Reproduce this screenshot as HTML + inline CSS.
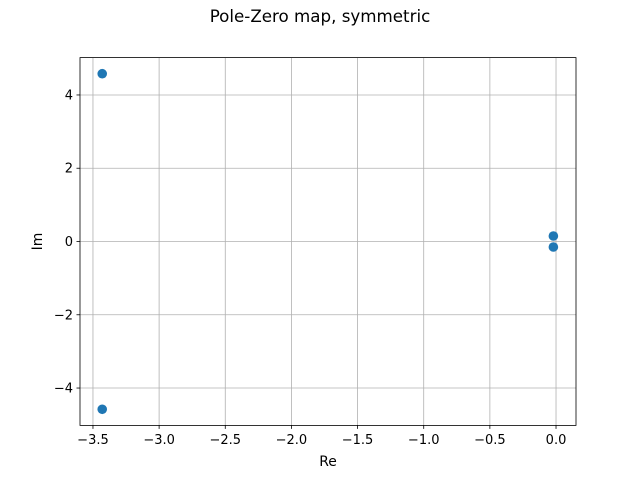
<!DOCTYPE html>
<html><head><meta charset="utf-8"><style>
body{margin:0;background:#fff;}
svg{display:block;font-family:"DejaVu Sans","Liberation Sans",sans-serif;}
</style></head><body>
<svg id="chart" width="640" height="478">
<text x="320" y="22" text-anchor="middle" font-size="16.7">Pole-Zero map, symmetric</text>
<g id="grid"></g>
<g id="ticks"></g>
<g id="points"></g>
<rect x="80" y="57.6" width="496" height="367.8" fill="none" stroke="#000" stroke-width="0.8"/>
<text x="328" y="466" text-anchor="middle" font-size="13.9">Re</text>
<text x="0" y="0" transform="translate(42,241.5) rotate(-90)" text-anchor="middle" font-size="13.9">Im</text>
</svg>
<script>
const xTicks=[-3.5,-3.0,-2.5,-2.0,-1.5,-1.0,-0.5,0.0];
const xTickLabels=["−3.5","−3.0","−2.5","−2.0","−1.5","−1.0","−0.5","0.0"];
const yTicks=[-4,-2,0,2,4];
const yTickLabels=["−4","−2","0","2","4"];
const reVals=[-3.43,-3.43,-0.02,-0.02];
const imVals=[4.58,-4.58,0.15,-0.15];
const L=80,R=576,T=57.6,B=425.4;
const xMin=-3.598,xMax=0.151,yMin=-5.02,yMax=5.02;
const sx=v=>L+(v-xMin)/(xMax-xMin)*(R-L);
const sy=v=>B-(v-yMin)/(yMax-yMin)*(B-T);
const NS="http://www.w3.org/2000/svg";
const grid=document.getElementById('grid'),ticks=document.getElementById('ticks'),pts=document.getElementById('points');
function mk(tag,attrs,parent){const e=document.createElementNS(NS,tag);for(const k in attrs)e.setAttribute(k,attrs[k]);parent.appendChild(e);return e;}
xTicks.forEach((v,i)=>{const x=sx(v);
const g=mk('line',{x1:x,x2:x,y1:T,y2:B,stroke:'#b0b0b0','stroke-width':0.8},grid);


const t=mk('line',{x1:x,x2:x,y1:B,y2:B+3.5,stroke:'#000','stroke-width':0.8},ticks);


const l=mk('text',{x:x,y:B+18.5,'text-anchor':'middle','font-size':13},ticks);l.textContent=xTickLabels[i];


});
yTicks.forEach((v,i)=>{const y=sy(v);
const g=mk('line',{x1:L,x2:R,y1:y,y2:y,stroke:'#b0b0b0','stroke-width':0.8},grid);


const t=mk('line',{x1:L-3.5,x2:L,y1:y,y2:y,stroke:'#000','stroke-width':0.8},ticks);


const l=mk('text',{x:L-7,y:y+4.5,'text-anchor':'end','font-size':13},ticks);l.textContent=yTickLabels[i];


});
reVals.forEach((v,i)=>{
const c=mk('circle',{cx:sx(v),cy:sy(imVals[i]),r:4.8,fill:'#1f77b4'},pts);


});
</script>
</body></html>
